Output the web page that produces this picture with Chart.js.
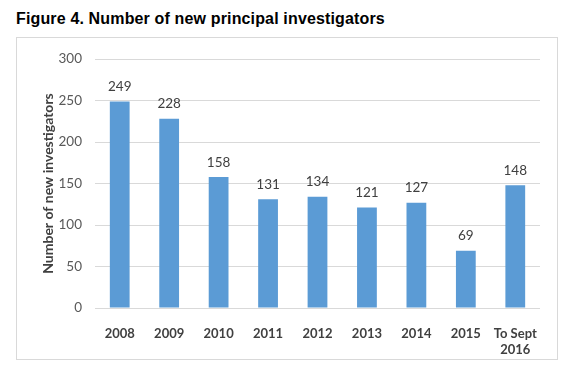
<!DOCTYPE html>
<html>
<head>
<meta charset="utf-8">
<script src="https://cdn.jsdelivr.net/npm/chart.js@4/dist/chart.umd.min.js"></script>
<style>
  html, body { margin: 0; padding: 0; background: #fff; }
  #title { position: absolute; left: 16px; top: 10px; font: bold 16px "Liberation Sans", Arial, sans-serif; letter-spacing: 0.15px; color: #000; white-space: nowrap; }
  #box { position: absolute; left: 16px; top: 37px; width: 540px; height: 321px; border: 1px solid #d9d9d9; }
  #box canvas { display: block; }
</style>
</head>
<body>
<div id="title">Figure 4. Number of new principal investigators</div>
<div id="box"><canvas id="chart" width="540" height="321"></canvas></div>
<script>
// values
const years = ["2008", "2009", "2010", "2011", "2012", "2013", "2014", "2015", ["To Sept", "2016"]];
const newInvestigators = [249, 228, 158, 131, 134, 121, 127, 69, 148];
const yTicks = [0, 50, 100, 150, 200, 250, 300];

const FONT = "Lato, 'Open Sans', sans-serif";

// numbers above each bar
const barLabels = {
  id: "barLabels",
  afterDatasetsDraw(chart) {
    const { ctx } = chart;
    const meta = chart.getDatasetMeta(0);
    ctx.save();
    ctx.font = `13.5px ${FONT}`;
    ctx.fillStyle = "#404040";
    ctx.textAlign = "center";
    ctx.textBaseline = "bottom";
    meta.data.forEach((bar, i) => ctx.fillText(String(newInvestigators[i]), bar.x, bar.y - 8));
    ctx.restore();
  },
};

new Chart(document.getElementById("chart"), {
  type: "bar",
  data: {
    labels: years,
    datasets: [{ data: newInvestigators, backgroundColor: "#5B9BD5", borderWidth: 0, barPercentage: 0.4, categoryPercentage: 1 }],
  },
  options: {
    responsive: false, animation: false,
    layout: { padding: { top: 19, right: 17, left: 0, bottom: 0 } },
    plugins: { legend: { display: false }, tooltip: { enabled: false } },
    scales: {
      x: {
        grid: { display: false }, border: { display: false },
        ticks: { color: "#404040", font: { family: FONT, size: 13, weight: "bold" }, padding: 10, maxRotation: 0, autoSkip: false },
        afterFit: (s) => { s.height = 51; },
      },
      y: {
        min: 0, max: 300,
        afterBuildTicks: (s) => { s.ticks = yTicks.map((v) => ({ value: v })); },
        grid: { color: "#d9d9d9", drawTicks: false }, border: { display: false },
        ticks: { color: "#595959", font: { family: FONT, size: 13.5 }, padding: 13 },
        title: { display: true, text: "Number of new investigators", color: "#404040", font: { family: FONT, size: 14, weight: "bold" }, padding: { top: 23, bottom: 0 } },
        afterFit: (s) => { s.width = 78; },
      },
    },
  },
  plugins: [barLabels],
});
</script>
</body>
</html>
